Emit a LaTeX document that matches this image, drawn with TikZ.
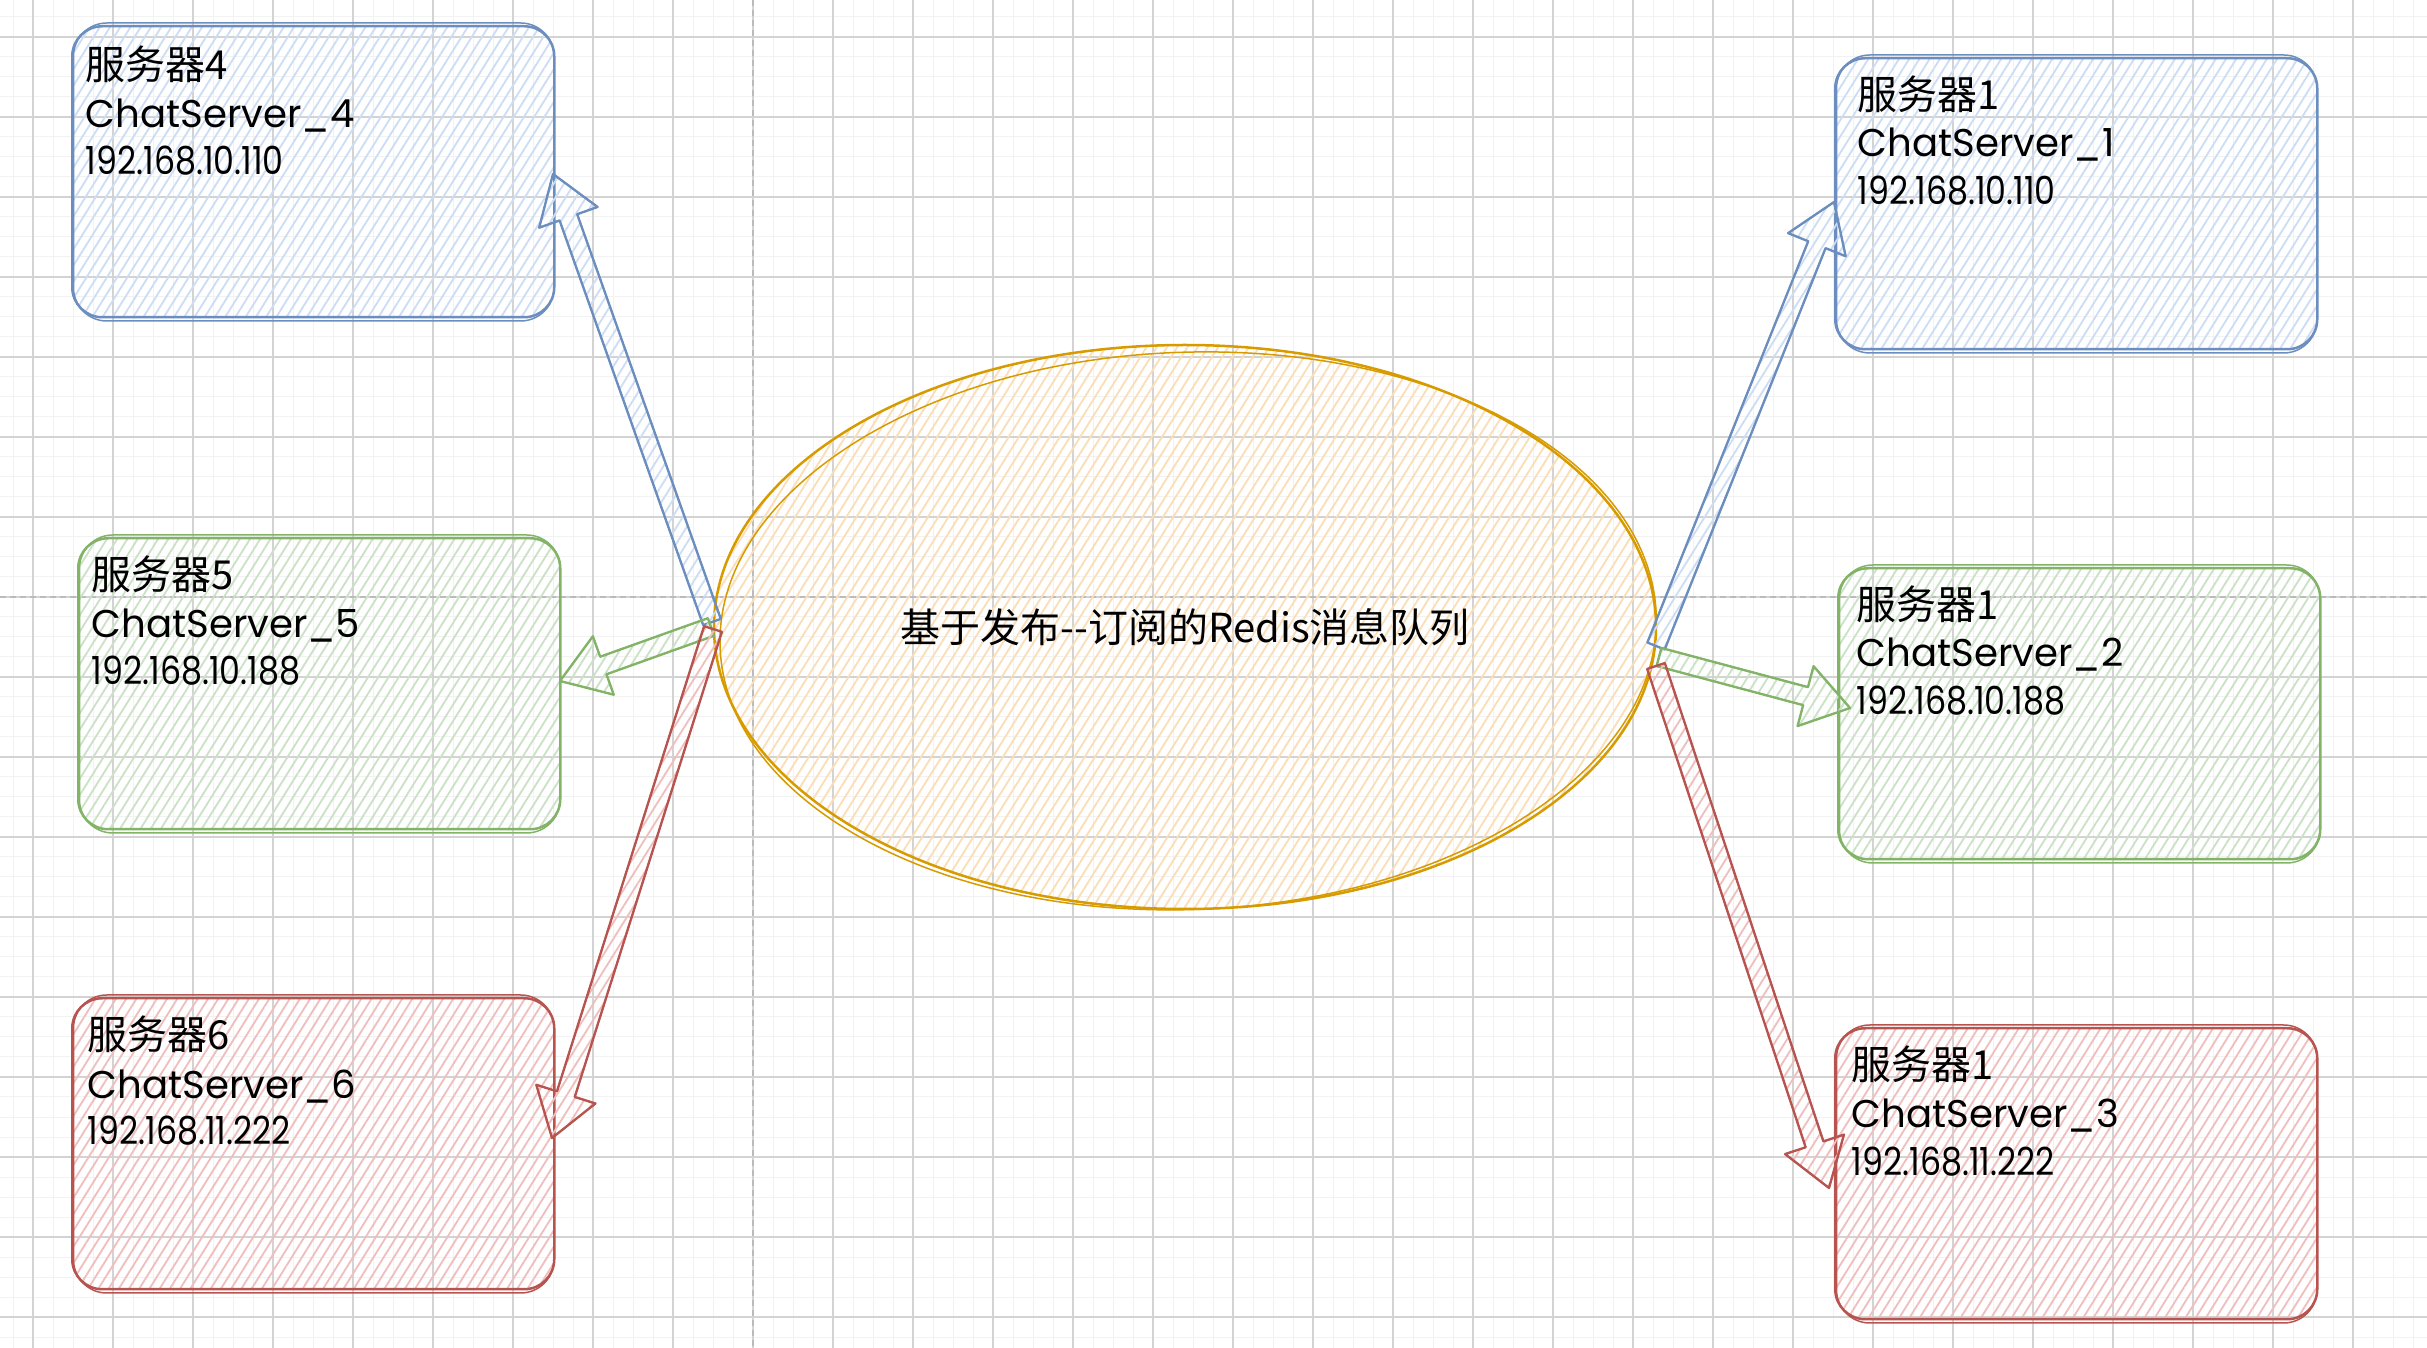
\documentclass[tikz,border=0pt]{standalone}
\usepackage{fontspec}
\usepackage{graphicx}
\setmainfont{Noto Sans CJK SC}
\newfontfamily\latinfont{Poppins}
\usetikzlibrary{patterns.meta,shapes.geometric,calc}

\definecolor{bluestroke}{HTML}{6C8EBF}
\definecolor{bluefill}{HTML}{DAE8FC}
\definecolor{greenstroke}{HTML}{82B366}
\definecolor{greenfill}{HTML}{D5E8D4}
\definecolor{redstroke}{HTML}{B85450}
\definecolor{redfill}{HTML}{F8CECC}
\definecolor{orangestroke}{HTML}{D79B00}
\definecolor{orangefill}{HTML}{FFE6CC}
\definecolor{gridminor}{HTML}{F2F2F2}
\definecolor{gridmajor}{HTML}{D3D3D3}
\definecolor{pageline}{HTML}{BBBBBB}

\newcommand\ipaddr[1]{\scalebox{0.86}[1]{#1}}

\tikzset{
  hatch/.style={pattern={Lines[angle=58,distance=2.6pt,line width=0.55pt]}, pattern color=#1},
  server/.style={rectangle, rounded corners=9pt, line width=0.75pt,
    minimum width=144.6pt, minimum height=87.3pt, anchor=north west, inner sep=0pt},
  cjkline/.style={anchor=base west, inner sep=0pt, font=\fontsize{12pt}{14pt}\selectfont},
  latline/.style={anchor=base west, inner sep=0pt, font=\latinfont\fontsize{11.6pt}{13pt}\selectfont},
}

% #1 colour prefix, #2 start coordinate, #3 tip coordinate
\newcommand\blockarrow[3]{%
  \coordinate (#3-h) at ($(#3)!13.8pt!(#2)$);
  \draw[#1stroke, line width=0.7pt, line join=round, hatch=#1fill!88!#1stroke]
    ($(#2)!2.8pt!90:(#3)$) -- ($(#3-h)!2.8pt!-90:(#2)$) -- ($(#3-h)!9.3pt!-90:(#2)$)
    -- (#3) -- ($(#3-h)!9.3pt!90:(#2)$) -- ($(#3-h)!2.8pt!90:(#2)$)
    -- ($(#2)!2.8pt!-90:(#3)$) -- cycle;
  \draw[#1stroke, line width=0.4pt, line join=round, shift={(1.5,1.2)}]
    ($(#2)!2.8pt!90:(#3)$) -- ($(#3-h)!2.8pt!-90:(#2)$) -- ($(#3-h)!9.3pt!-90:(#2)$)
    -- (#3) -- ($(#3-h)!9.3pt!90:(#2)$) -- ($(#3-h)!2.8pt!90:(#2)$)
    -- ($(#2)!2.8pt!-90:(#3)$) -- cycle;
}
% #1 node name, #2 colour prefix
\newcommand\sketchbox[2]{%
  \draw[#2stroke, line width=0.45pt, rounded corners=10pt]
    ($(#1.north west)+(2.5,-2)$) rectangle ($(#1.south east)+(-1.5,2.5)$);
}

\begin{document}
\begin{tikzpicture}[x=0.3pt, y=-0.3pt]
\useasboundingbox (0,0) rectangle (2427,1348);
\fill[white] (0,0) rectangle (2427,1348);

% grid
\foreach \gx in {13,33,...,2427} \draw[gridminor, line width=0.3pt] (\gx,0) -- (\gx,1348);
\foreach \gy in {17,37,...,1348} \draw[gridminor, line width=0.3pt] (0,\gy) -- (2427,\gy);
\foreach \gx in {33,113,...,2427} \draw[gridmajor, line width=0.35pt] (\gx,0) -- (\gx,1348);
\foreach \gy in {37,117,...,1348} \draw[gridmajor, line width=0.35pt] (0,\gy) -- (2427,\gy);
% page break lines
\draw[pageline, line width=0.45pt, dash pattern=on 1.8pt off 1.2pt] (753,0) -- (753,1348);
\draw[pageline, line width=0.45pt, dash pattern=on 1.8pt off 1.2pt] (0,597) -- (2427,597);

% central ellipse
\node[ellipse, draw=orangestroke, line width=0.75pt, hatch=orangefill!90!orangestroke,
      minimum width=282.6pt, minimum height=169.2pt, inner sep=0pt,
      font=\fontsize{12pt}{14pt}\selectfont] (redis) at (1185,627) {基于发布-{}-订阅的Redis消息队列};
\draw[orangestroke, line width=0.45pt, rotate around={2:(redis.center)}]
  ($(redis.center)+(3,4)$) ellipse [x radius=140.5pt, y radius=83.6pt];

% servers
\node[server, draw=bluestroke, hatch=bluefill!88!bluestroke] (s4) at (71,25) {};
\node[server, draw=greenstroke, hatch=greenfill!88!greenstroke] (s5) at (77,537) {};
\node[server, draw=redstroke, hatch=redfill!88!redstroke] (s6) at (71,997) {};
\node[server, draw=bluestroke, hatch=bluefill!88!bluestroke] (s1) at (1834,57) {};
\node[server, draw=greenstroke, hatch=greenfill!88!greenstroke] (s2) at (1837,567) {};
\node[server, draw=redstroke, hatch=redfill!88!redstroke] (s3) at (1834,1027) {};
\sketchbox{s4}{blue}
\sketchbox{s5}{green}
\sketchbox{s6}{red}
\sketchbox{s1}{blue}
\sketchbox{s2}{green}
\sketchbox{s3}{red}

% server texts
\node[cjkline] (s4a) at (85,80) {服务器4};
\node[latline] (s4b) at (85,128) {ChatServer\_4};
\node[latline] (s4c) at (85,175) {\ipaddr{192.168.10.110}};

\node[cjkline] (s5a) at (91,590) {服务器5};
\node[latline] (s5b) at (91,638) {ChatServer\_5};
\node[latline] (s5c) at (91,685) {\ipaddr{192.168.10.188}};

\node[cjkline] (s6a) at (87,1050) {服务器6};
\node[latline] (s6b) at (87,1098) {ChatServer\_6};
\node[latline] (s6c) at (87,1144) {\ipaddr{192.168.11.222}};

\node[cjkline] (s1a) at (1857,110) {服务器1};
\node[latline] (s1b) at (1857,157) {ChatServer\_1};
\node[latline] (s1c) at (1857,205) {\ipaddr{192.168.10.110}};

\node[cjkline] (s2a) at (1856,620) {服务器1};
\node[latline] (s2b) at (1856,667) {ChatServer\_2};
\node[latline] (s2c) at (1856,715) {\ipaddr{192.168.10.188}};

\node[cjkline] (s3a) at (1851,1080) {服务器1};
\node[latline] (s3b) at (1851,1127) {ChatServer\_3};
\node[latline] (s3c) at (1851,1175) {\ipaddr{192.168.11.222}};

% arrow end points
\coordinate (a4s) at (712,622);
\coordinate (a4t) at (553,174);
\coordinate (a5s) at (711,627);
\coordinate (a5t) at (560,681);
\coordinate (a6s) at (713,629);
\coordinate (a6t) at (552,1138);
\coordinate (a1s) at (1656,646);
\coordinate (a1t) at (1834,202);
\coordinate (a2s) at (1659,657);
\coordinate (a2t) at (1850,708);
\coordinate (a3s) at (1656,666);
\coordinate (a3t) at (1829,1188);

\blockarrow{blue}{a4s}{a4t}
\blockarrow{green}{a5s}{a5t}
\blockarrow{red}{a6s}{a6t}
\blockarrow{blue}{a1s}{a1t}
\blockarrow{green}{a2s}{a2t}
\blockarrow{red}{a3s}{a3t}
\end{tikzpicture}
\end{document}
